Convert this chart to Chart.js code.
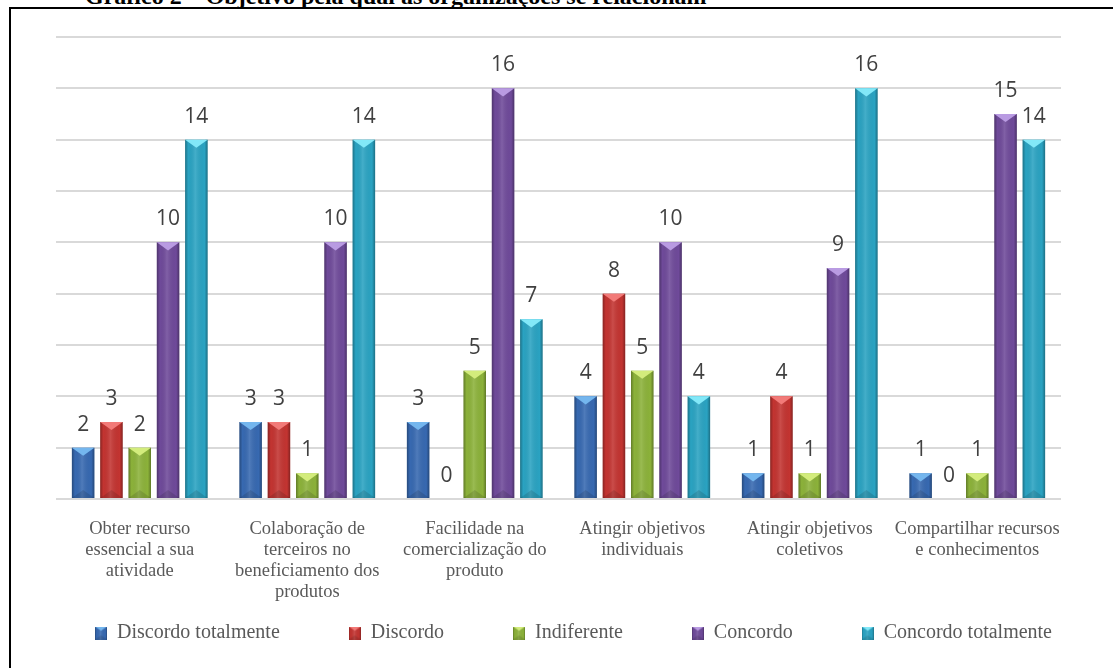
<!DOCTYPE html>
<html>
<head>
<meta charset="utf-8">
<script src="https://cdn.jsdelivr.net/npm/chart.js@4.4.1/dist/chart.umd.min.js"></script>
<style>
  html, body { margin: 0; padding: 0; background: #fff; overflow: hidden; }
  #titulo { position: absolute; left: 85px; top: -16px; font: bold 24px "Liberation Serif", serif; line-height: 24px; white-space: nowrap; color: #000; }
  #moldura { position: absolute; left: 9px; top: 7px; width: 1200px; height: 800px; border: 2px solid #000; box-sizing: border-box; }
  canvas { position: absolute; left: 0; top: 0; }
</style>
</head>
<body>
<div id="titulo">Gráfico 2 – Objetivo pela qual as organizações se relacionam</div>
<div id="moldura"></div>
<canvas id="grafico" width="1113" height="668"></canvas>
<script>
// categorias (eixo x), quebradas em linhas como no original
const categorias = [
  ['Obter recurso', 'essencial a sua', 'atividade'],
  ['Colaboração de', 'terceiros no', 'beneficiamento dos', 'produtos'],
  ['Facilidade na', 'comercialização do', 'produto'],
  ['Atingir objetivos', 'individuais'],
  ['Atingir objetivos', 'coletivos'],
  ['Compartilhar recursos', 'e conhecimentos']
];

const series = ['Discordo totalmente', 'Discordo', 'Indiferente', 'Concordo', 'Concordo totalmente'];

const discordoTotalmente = [2, 3, 3, 4, 1, 1];
const discordo = [3, 3, 0, 8, 4, 0];
const indiferente = [2, 1, 5, 5, 1, 1];
const concordo = [10, 10, 16, 10, 9, 15];
const concordoTotalmente = [14, 14, 7, 4, 16, 14];

const eixoMax = 18;
const eixoPasso = 2;

const cores = ['#3769b1', '#c33431', '#8cb23a', '#6f4a9a', '#2aa3c2'];
const coresTopo = ['#74b6ee', '#f27a78', '#d3ec7c', '#b99be2', '#82e8f8'];

const valores = [discordoTotalmente, discordo, indiferente, concordo, concordoTotalmente];

// pinta o "bisel": bordas escuras e triangulo claro no topo
function bisel(ctx, l, y, w, h, i) {
  const r = l + w, x = l + w / 2, base = y + h;
  const g = ctx.createLinearGradient(l, 0, r, 0);
  g.addColorStop(0, 'rgba(0,0,0,0.30)');
  g.addColorStop(0.14, 'rgba(0,0,0,0)');
  g.addColorStop(0.45, 'rgba(255,255,255,0.12)');
  g.addColorStop(0.86, 'rgba(0,0,0,0)');
  g.addColorStop(1, 'rgba(0,0,0,0.32)');
  ctx.fillStyle = g;
  ctx.fillRect(l, y, w, h);
  const t = Math.min(w * 0.36, h / 2);
  ctx.fillStyle = 'rgba(0,0,0,0.12)';
  ctx.beginPath();
  ctx.moveTo(l, base); ctx.lineTo(r, base); ctx.lineTo(x, base - t);
  ctx.closePath(); ctx.fill();
  ctx.fillStyle = coresTopo[i];
  ctx.beginPath();
  ctx.moveTo(l, y); ctx.lineTo(r, y); ctx.lineTo(x, y + t);
  ctx.closePath(); ctx.fill();
}

// quadradinhos da legenda com o mesmo relevo
const iconesLegenda = cores.map((cor, i) => {
  const c = document.createElement('canvas');
  c.width = 12; c.height = 13;
  const cx = c.getContext('2d');
  cx.fillStyle = cor;
  cx.fillRect(0, 0, 12, 13);
  bisel(cx, 0, 0, 12, 13, i);
  return c;
});

const relevo = {
  id: 'relevo',
  afterDatasetsDraw(chart) {
    const ctx = chart.ctx;
    chart.data.datasets.forEach((ds, i) => {
      chart.getDatasetMeta(i).data.forEach(bar => {
        const { x, y, base, width } = bar.getProps(['x', 'y', 'base', 'width'], true);
        const h = base - y;
        if (h < 1) return;
        ctx.save();
        bisel(ctx, x - width / 2, y, width, h, i);
        ctx.restore();
      });
    });
  }
};

// valores acima das barras
const rotulos = {
  id: 'rotulos',
  afterDatasetsDraw(chart) {
    const ctx = chart.ctx;
    ctx.save();
    ctx.font = '21px "Open Sans", sans-serif';
    ctx.fillStyle = '#404040';
    ctx.textAlign = 'center';
    ctx.textBaseline = 'alphabetic';
    chart.data.datasets.forEach((ds, i) => {
      chart.getDatasetMeta(i).data.forEach((bar, j) => {
        ctx.fillText(String(ds.data[j]), bar.x, bar.y - 17);
      });
    });
    ctx.restore();
  }
};

new Chart(document.getElementById('grafico'), {
  type: 'bar',
  data: {
    labels: categorias,
    datasets: series.map((nome, i) => ({
      label: nome,
      data: valores[i],
      backgroundColor: cores[i],
      borderWidth: 0,
      categoryPercentage: 0.845,
      barPercentage: 0.795
    }))
  },
  options: {
    responsive: false,
    animation: false,
    layout: { padding: { top: 37, left: 56, right: 52, bottom: 15 } },
    scales: {
      x: {
        grid: { display: false },
        border: { display: false },
        ticks: {
          color: '#595959',
          font: { family: '"Liberation Serif", serif', size: 18.5, lineHeight: '21px' },
          padding: 12,
          maxRotation: 0,
          minRotation: 0,
          autoSkip: false
        },
        afterFit(scale) { scale.height = 115; }
      },
      y: {
        min: 0,
        max: eixoMax,
        ticks: { display: false, stepSize: eixoPasso },
        grid: { color: '#d9d9d9', lineWidth: 2, drawTicks: false },
        border: { display: false }
      }
    },
    plugins: {
      tooltip: { enabled: false },
      legend: {
        position: 'bottom',
        align: 'end',
        labels: {
          usePointStyle: true,
          boxWidth: 12,
          boxHeight: 12,
          padding: 9,
          color: '#595959',
          font: { family: '"Liberation Serif", serif', size: 20 },
          generateLabels(chart) {
            const itens = Chart.defaults.plugins.legend.labels.generateLabels(chart);
            itens.forEach((it, k) => {
              it.pointStyle = iconesLegenda[k];
              if (k < itens.length - 1) it.text += ' '.repeat(12);
            });
            return itens;
          }
        }
      }
    }
  },
  plugins: [relevo, rotulos]
});
</script>
</body>
</html>
